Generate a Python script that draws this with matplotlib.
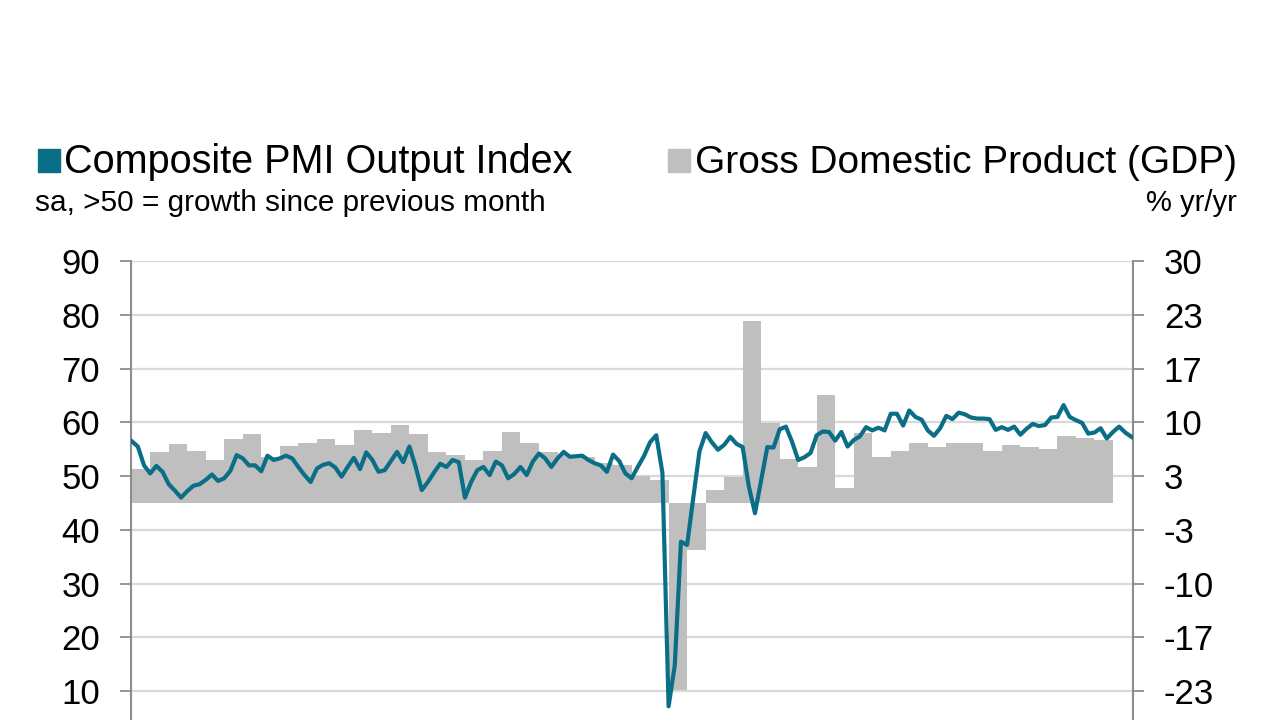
import numpy as np
import matplotlib
matplotlib.use("Agg")
import matplotlib.pyplot as plt
from matplotlib.patches import Rectangle

# Composite PMI Output Index, monthly, first point Jan 2013
pmi = [56.5, 55.5, 52.0, 50.5, 51.9, 50.8, 48.5, 47.3, 46.0, 47.2, 48.2, 48.5,
       49.3, 50.3, 49.1, 49.6, 51.0, 53.9, 53.3, 52.0, 52.0, 50.9, 53.8, 53.0,
       53.3, 53.8, 53.3, 51.7, 50.2, 48.9, 51.4, 52.1, 52.4, 51.6, 49.9, 51.7,
       53.4, 51.3, 54.4, 53.0, 50.8, 51.1, 52.8, 54.5, 52.6, 55.5, 51.8, 47.4,
       48.9, 50.7, 52.3, 51.7, 53.0, 52.6, 46.0, 48.9, 51.1, 51.7, 50.2, 52.7,
       52.0, 49.6, 50.4, 51.7, 50.2, 52.7, 54.2, 53.3, 51.7, 53.3, 54.5, 53.6,
       53.7, 53.8, 53.0, 52.4, 52.0, 50.8, 54.0, 52.8, 50.5, 49.6, 51.7, 53.7,
       56.3, 57.6, 50.6, 7.2, 14.8, 37.8, 37.2, 46.0, 54.6, 58.0, 56.3, 54.9,
       55.8, 57.3, 56.0, 55.4, 48.1, 43.1, 49.2, 55.4, 55.3, 58.7, 59.2, 56.4,
       53.0, 53.5, 54.3, 57.6, 58.3, 58.2, 56.6, 58.2, 55.5, 56.7, 57.4, 59.1,
       58.5, 59.0, 58.5, 61.6, 61.6, 59.4, 62.2, 61.0, 60.5, 58.5, 57.5, 58.9,
       61.2, 60.6, 61.8, 61.5, 60.9, 60.7, 60.7, 60.6, 58.6, 59.1, 58.6, 59.2,
       57.7, 58.8, 59.7, 59.3, 59.5, 60.9, 61.0, 63.2, 61.0, 60.4, 59.9, 57.9,
       58.1, 58.9, 57.0, 58.2, 59.2, 58.1, 57.3]

# GDP % yr/yr, quarterly, first bar Q1 2013
gdp = [4.2, 6.3, 7.3, 6.4, 5.3, 7.9, 8.5, 5.7, 7.1, 7.5, 7.9, 7.2,
       9.1, 8.7, 9.7, 8.5, 6.3, 6.0, 5.3, 6.5, 8.8, 7.4, 6.3, 6.0,
       5.7, 4.9, 4.7, 3.3, 2.9, -23.2, -5.8, 1.6, 3.2, 22.6, 9.9, 5.4,
       4.5, 13.4, 1.8, 8.7, 5.7, 6.5, 7.5, 7.0, 7.4, 7.4, 6.5, 7.2,
       6.9, 6.7, 8.3, 8.0, 7.8]

# visible ticks (the axis runs on below the picture's lower edge)
left_ticks = [10, 20, 30, 40, 50, 60, 70, 80, 90]

title_left = "Composite PMI Output Index"
sub_left = "sa, >50 = growth since previous month"
title_right = "Gross Domestic Product (GDP)"
sub_right = "% yr/yr"

teal = "#0b6e87"
bar_grey = "#bfbfbf"
axis_grey = "#8c8c8c"
grid_grey = "#d9d9d9"

plt.rcParams['font.family'] = ['Liberation Sans', 'DejaVu Sans']

fig = plt.figure(figsize=(12.8, 7.2), dpi=100)
ax = fig.add_axes([130.7 / 1280, 1 - 745 / 720, 1002.6 / 1280, 484 / 720])
ax2 = ax.twinx()

# gdp bars on the right scale, 3 months per bar
months = np.arange(len(pmi))
qx = np.arange(len(gdp)) * 3
ax2.bar(qx, gdp, width=3, align='edge', color=bar_grey, linewidth=0)

# pmi line on the left scale
ax.plot(months, pmi, color=teal, lw=3.0, solid_joinstyle='round', zorder=3)

ax.set_ylim(0, 90)
ax2.set_ylim(-30, 30)
ax.set_xlim(-0.16, 162.3)

right_ticks = [(v - 45) * 2 / 3 for v in left_ticks]
ax.set_yticks(left_ticks)
ax2.set_yticks(right_ticks)
ax2.set_yticklabels(["%.0f" % v for v in right_ticks])
ax.set_xticks([])
ax2.set_xticks([])

# grid behind the bars
ax2.set_axisbelow(True)
ax2.yaxis.grid(True, color=grid_grey, lw=1.6)
ax.set_zorder(ax2.get_zorder() + 1)
ax.patch.set_visible(False)

for a in (ax, ax2):
    for s in ('top', 'bottom'):
        a.spines[s].set_visible(False)
ax.spines['right'].set_visible(False)
ax2.spines['left'].set_visible(False)
ax.spines['left'].set_color(axis_grey)
ax.spines['left'].set_linewidth(1.5)
ax2.spines['right'].set_color(axis_grey)
ax2.spines['right'].set_linewidth(1.5)

ax.tick_params(axis='y', direction='out', length=8, width=1.3, color=axis_grey,
               pad=14, labelsize=25, labelcolor='black')
ax2.tick_params(axis='y', direction='out', length=8, width=1.3, color=axis_grey,
                pad=14, labelsize=25, labelcolor='black')

# header texts and legend squares
fig.patches.append(Rectangle((38 / 1280, 1 - 172 / 720), 22 / 1280, 23 / 720,
                             transform=fig.transFigure, color=teal))
fig.patches.append(Rectangle((668 / 1280, 1 - 172 / 720), 22 / 1280, 23 / 720,
                             transform=fig.transFigure, color=bar_grey))
fig.text(64 / 1280, 1 - 173 / 720, title_left, fontsize=28.5, va='baseline', ha='left')
fig.text(35 / 1280, 1 - 211 / 720, sub_left, fontsize=21.4, va='baseline', ha='left')
fig.text(1237 / 1280, 1 - 173 / 720, title_right, fontsize=28, va='baseline', ha='right')
fig.text(1237 / 1280, 1 - 211 / 720, sub_right, fontsize=21, va='baseline', ha='right')

fig.savefig("out.png", dpi=100)
